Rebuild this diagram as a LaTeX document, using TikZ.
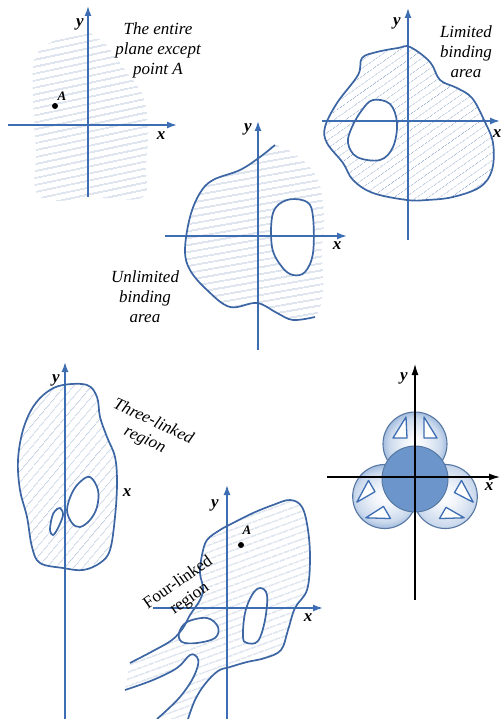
\documentclass[tikz,border=0pt]{standalone}
\usepackage{fontspec}
\setmainfont{Liberation Serif}
\usepackage{tikz}
\usetikzlibrary{arrows.meta,patterns.meta}
\definecolor{axblue}{HTML}{3D6DB3}
\definecolor{lnblue}{HTML}{3C65A3}
\definecolor{htblue}{HTML}{A2B5D2}
\definecolor{lobeblue}{HTML}{6E96CC}
\definecolor{coreblue}{HTML}{6C96CB}
\colorlet{lobemid}{white!65!lobeblue}
\colorlet{lobeedge}{lobeblue!90}
\pgfdeclareradialshading{lobeshade}{\pgfpoint{0bp}{0bp}}{color(0bp)=(white); color(8bp)=(white!90!lobeblue); color(20bp)=(lobemid); color(30bp)=(lobeedge); color(50bp)=(lobeblue)}

\begin{document}
\begin{tikzpicture}[x=1pt, y=-1pt,
  axis/.style={draw=axblue, line width=1.5pt, -{Latex[length=10pt,width=7pt]}},
  blackaxis/.style={draw=black, line width=1.3pt, -{Latex[length=11pt,width=7pt]}},
  border/.style={draw=lnblue, line width=1.7pt},
  hatch/.style={pattern={Lines[angle=#1,distance=6.5pt,line width=0.7pt]}, pattern color=htblue},
  lbl/.style={font=\fontsize{17}{19}\selectfont\itshape\bfseries, inner sep=0pt},
  note/.style={font=\fontsize{17}{20}\selectfont\itshape, align=center, inner sep=0pt},
  dot/.style={circle, fill=black, inner sep=0pt, minimum size=6pt},
  lobe/.style={shading=lobeshade, draw=lobeblue!80!black, line width=1.1pt},
  notch/.style={fill=white, draw=axblue, line width=1.3pt, line join=round},
]
\useasboundingbox (0,0) rectangle (500,719);

% panel 1: the entire plane except point A
\path[hatch=12] plot[smooth cycle, tension=0.6] coordinates {(35,58) (55,40) (82,31) (105,44) (125,70) (143,96) (148,130) (146,165) (143,197) (100,198) (40,197) (36,150) (33,100)};
\draw[axis] (8,125) -- (177,125);
\draw[axis] (88,197) -- (88,6);
\node[lbl] (y1) at (80,24) {y};
\node[lbl] (x1) at (161,136) {x};
\node[dot] (A1) at (55,106) {};
\node[lbl, font=\fontsize{13}{15}\selectfont\itshape\bfseries] (A1l) at (62,96) {A};
\node[note] (t1) at (158,50) {The entire\\plane except\\point A};

% panel 2: unlimited binding area
\path[hatch=10, even odd rule]
  plot[smooth cycle, tension=0.6] coordinates {(275,145) (260,157) (240,170) (213,180) (200,193) (190,217) (185,250) (190,270) (207,290) (230,307) (257,303) (277,313) (293,320) (315,317) (323,290) (322,250) (324,215) (318,180) (300,158)}
  plot[smooth cycle, tension=0.6] coordinates {(287,200) (307,202) (313,217) (313,253) (305,272) (293,275) (282,267) (272,247) (273,213)};
\draw[axis] (165,236) -- (347,236);
\draw[axis] (258,350) -- (258,121);
\draw[border] plot[smooth, tension=0.6] coordinates {(275,145) (260,157) (240,170) (213,180) (200,193) (190,217) (185,250) (190,270) (207,290) (230,307) (257,303) (277,313) (293,320) (315,317)};
\draw[border] plot[smooth cycle, tension=0.6] coordinates {(287,200) (307,202) (313,217) (313,253) (305,272) (293,275) (282,267) (272,247) (273,213)};
\node[lbl] (y2) at (248,129) {y};
\node[lbl] (x2) at (337,246) {x};
\node[note] (t2) at (145,297) {Unlimited\\binding\\area};

% panel 3: limited binding area
\path[hatch=35, even odd rule]
  plot[smooth cycle, tension=0.6] coordinates {(410,47) (430,62) (440,80) (457,88) (472,98) (484,120) (493,143) (492,170) (480,187) (453,197) (427,200) (407,200) (373,193) (353,180) (343,163) (327,143) (325,127) (337,103) (358,75) (362,58) (377,52) (398,48)}
  plot[smooth cycle, tension=0.6] coordinates {(373,100) (390,104) (397,123) (393,147) (380,160) (357,157) (348,143) (352,127) (362,110)};
\draw[axis] (322,121) -- (500,121);
\draw[axis] (408,240) -- (408,8);
\draw[border] plot[smooth cycle, tension=0.6] coordinates {(410,47) (430,62) (440,80) (457,88) (472,98) (484,120) (493,143) (492,170) (480,187) (453,197) (427,200) (407,200) (373,193) (353,180) (343,163) (327,143) (325,127) (337,103) (358,75) (362,58) (377,52) (398,48)};
\draw[border] plot[smooth cycle, tension=0.6] coordinates {(373,100) (390,104) (397,123) (393,147) (380,160) (357,157) (348,143) (352,127) (362,110)};
\node[lbl] (y3) at (397,23) {y};
\node[lbl] (x3) at (497,134) {x};
\node[note] (t3) at (466,52) {Limited\\binding\\area};

% panel 4: three-linked region
\path[hatch=50, even odd rule]
  plot[smooth cycle, tension=0.6] coordinates {(63,385) (87,385) (97,397) (100,417) (107,437) (115,457) (117,483) (115,517) (110,550) (100,563) (83,570) (63,568) (40,563) (32,547) (27,517) (20,490) (18,460) (23,430) (33,407) (47,392)}
  plot[smooth cycle, tension=0.6] coordinates {(90,477) (98,490) (97,507) (90,520) (80,527) (72,523) (67,510) (72,493) (80,482)}
  plot[smooth cycle, tension=0.6] coordinates {(60,508) (63,515) (58,528) (53,535) (50,530) (52,517) (55,511)};
\draw[axis] (65,719) -- (65,362);
\draw[border] plot[smooth cycle, tension=0.6] coordinates {(63,385) (87,385) (97,397) (100,417) (107,437) (115,457) (117,483) (115,517) (110,550) (100,563) (83,570) (63,568) (40,563) (32,547) (27,517) (20,490) (18,460) (23,430) (33,407) (47,392)};
\draw[border] plot[smooth cycle, tension=0.6] coordinates {(90,477) (98,490) (97,507) (90,520) (80,527) (72,523) (67,510) (72,493) (80,482)};
\draw[border] plot[smooth cycle, tension=0.6] coordinates {(60,508) (63,515) (58,528) (53,535) (50,530) (52,517) (55,511)};
\node[lbl] (y4) at (56,380) {y};
\node[lbl] (x4) at (127,493) {x};
\node[note, rotate=-25] (t4) at (149,431) {Three-linked\\region};

% panel 5: four-linked region
\path[hatch=20, even odd rule]
  plot[smooth, tension=0.6] coordinates {(130,663) (153,651) (172,640) (183,628) (190,615) (200,600) (203,588) (200,573) (202,555) (207,540) (220,530) (233,523) (253,513) (273,505) (290,500) (302,507) (308,530) (310,560) (307,590) (295,608) (288,630) (281,650) (265,658) (247,662) (230,667) (218,671) (205,684) (195,700) (188,719)}
  -- plot[smooth, tension=0.6] coordinates {(157,719) (167,710) (180,697) (192,680) (198,665) (197,657) (190,655) (177,668) (153,680) (125,690)} -- cycle
  plot[smooth cycle, tension=0.6] coordinates {(187,622) (207,618) (218,627) (215,638) (197,643) (182,642) (179,633)}
  plot[smooth cycle, tension=0.6] coordinates {(260,588) (267,595) (265,620) (258,641) (247,643) (243,637) (245,613) (252,595)};
\draw[axis] (153,608) -- (323,608);
\draw[axis] (227,719) -- (227,485);
\draw[border] plot[smooth, tension=0.6] coordinates {(130,663) (153,651) (172,640) (183,628) (190,615) (200,600) (203,588) (200,573) (202,555) (207,540) (220,530) (233,523) (253,513) (273,505) (290,500) (302,507) (308,530) (310,560) (307,590) (295,608) (288,630) (281,650) (265,658) (247,662) (230,667) (218,671) (205,684) (195,700) (188,719)};
\draw[border] plot[smooth, tension=0.6] coordinates {(125,690) (153,680) (177,668) (190,655) (197,657) (198,665) (192,680) (180,697) (167,710) (157,719)};
\draw[border] plot[smooth cycle, tension=0.6] coordinates {(187,622) (207,618) (218,627) (215,638) (197,643) (182,642) (179,633)};
\draw[border] plot[smooth cycle, tension=0.6] coordinates {(260,588) (267,595) (265,620) (258,641) (247,643) (243,637) (245,613) (252,595)};
\node[lbl] (y5) at (215,505) {y};
\node[lbl] (x5) at (308,618) {x};
\node[dot] (A5) at (241,545) {};
\node[lbl, font=\fontsize{13}{15}\selectfont\itshape\bfseries] (A5l) at (247,530) {A};
\node[note, font=\fontsize{17}{20}\selectfont\upshape, rotate=35] (t5) at (184,591) {Four-linked\\region};

% panel 6: three lobes round a core
\coordinate (core) at (415,479);
\foreach \ang in {0,120,-120} {
  \begin{scope}[rotate around={\ang:(core)}]
    \path[lobe] (415,444) circle (32);
    \draw[notch] (406,417) -- (393,438) -- (407,438) -- cycle;
    \draw[notch] (424,417) -- (424,438) -- (437,438) -- cycle;
  \end{scope}
}
\draw[fill=coreblue, draw=coreblue!80!black, line width=1pt] (core) circle (33);
\draw[blackaxis] (327,477) -- (500,477);
\draw[blackaxis] (415,600) -- (415,364);
\node[lbl] (y6) at (404,378) {y};
\node[lbl] (x6) at (489,487) {x};
\end{tikzpicture}
\end{document}
